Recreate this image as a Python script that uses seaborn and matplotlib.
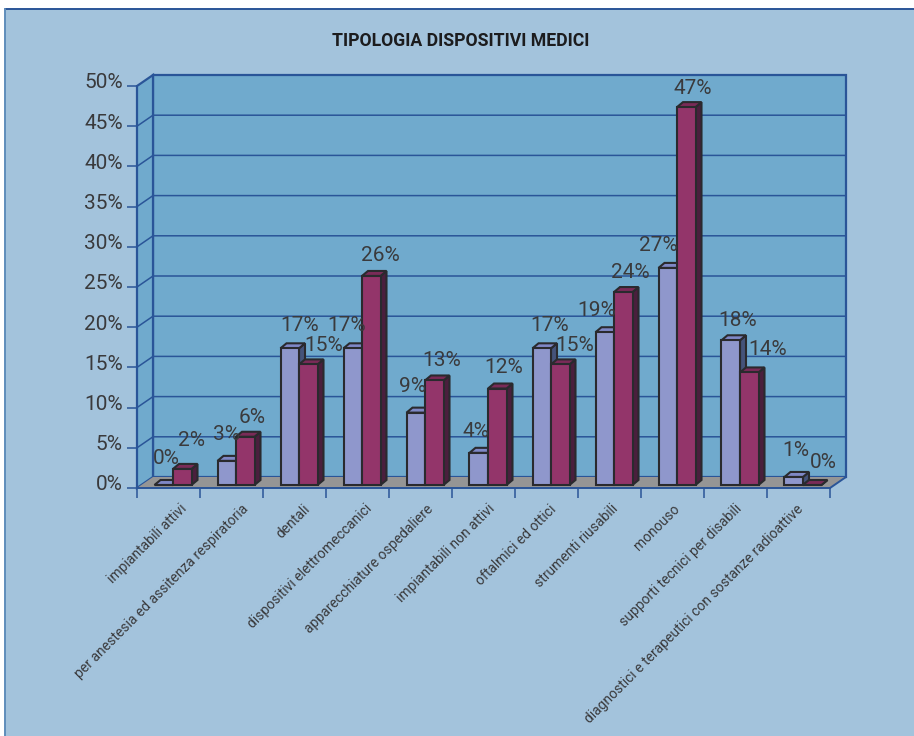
import pandas as pd
import seaborn as sns
import matplotlib.pyplot as plt
from matplotlib.patches import Polygon, Rectangle
from matplotlib.transforms import ScaledTranslation

categories = [
    'impiantabili attivi',
    'per anestesia ed assitenza respiratoria',
    'dentali',
    'dispositivi elettromeccanici',
    'apparecchiature ospedaliere',
    'impiantabili non attivi',
    'oftalmici ed ottici',
    'strumenti riusabili',
    'monouso',
    'supporti tecnici per disabili',
    'diagnostici e terapeutici con sostanze radioattive',
]
series_a = [0, 3, 17, 17, 9, 4, 17, 19, 27, 18, 1]
series_b = [2, 6, 15, 26, 13, 12, 15, 24, 47, 14, 0]
y_ticks = [0, 5, 10, 15, 20, 25, 30, 35, 40, 45, 50]

# hand placed value labels, pixels from the middle of the bar top
label_dx_a = [3, 0, 10, -6, -3, -3, 8, -8, -9, 7, 2]
label_dy_a = [27, 26, 23, 23, 26, 21, 23, 22, 22, 20, 26]
label_dx_b = [9, 7, 15, 9, 7, 6, 14, 7, 7, 18, 11]
label_dy_b = [28, 19, 19, 20, 20, 21, 19, 20, 19, 23, 23]

PAGE = '#a3c3dc'
WALL = '#70aacd'
FLOOR = '#959595'
LINE = '#2a5598'
EDGE = '#2a2a2e'
TEXT = '#3a3a3c'
NUM_FONT = ['Liberation Sans Narrow', 'Roboto']
BLUE = ('#8f97cc', '#7f88c6', '#45537a')
RED = ('#93356a', '#7a2b58', '#4a1f3d')

W, H = 914, 736
LEFT, RIGHT, BASE, TOP = 137, 830, 488, 86
X_PX = (RIGHT - LEFT) / len(categories)
Y_PX = (BASE - TOP) / 50


def px_x(p):
    return p / X_PX


def px_y(p):
    return p / Y_PX


def draw_walls(ax):
    x0, x1 = -0.5, len(categories) - 0.5
    dx, dy = px_x(16), px_y(11)
    kw = dict(clip_on=False, zorder=0.5)
    ax.add_patch(Rectangle((x0 + dx, dy), x1 - x0, 50, fc=WALL, ec=LINE, lw=1.6, **kw))
    ax.add_patch(Polygon([(x0, 0), (x0 + dx, dy), (x0 + dx, 50 + dy), (x0, 50)],
                         fc=WALL, ec=LINE, lw=1.6, **kw))
    ax.add_patch(Polygon([(x0, 0), (x1, 0), (x1 + dx, dy), (x0 + dx, dy)],
                         fc=FLOOR, ec='none', **kw))
    ax.plot([x1, x1 + dx], [0, dy], color=LINE, lw=1.4, clip_on=False, zorder=0.7)
    for t in y_ticks[1:-1]:
        ax.plot([x0, x0 + dx, x1 + dx], [t, t + dy, t + dy], color=LINE, lw=1.1,
                clip_on=False, zorder=0.7)


def draw_bar(ax, bar, colors, z):
    x, y, w, h = bar.get_x(), bar.get_y(), bar.get_width(), bar.get_height()
    dx, dy = px_x(6), px_y(5)
    top = y + h
    bar.set_zorder(z + 0.2)
    bar.set_facecolor(colors[0])
    bar.set_edgecolor(EDGE)
    bar.set_linewidth(1.5)
    bar.set_clip_on(False)
    ax.add_patch(Polygon([(x, top), (x + w, top), (x + w + dx, top + dy), (x + dx, top + dy)],
                         fc=colors[1], ec=EDGE, lw=1.5, zorder=z + 0.1, clip_on=False))
    ax.add_patch(Polygon([(x + w, y), (x + w + dx, y + dy), (x + w + dx, top + dy), (x + w, top)],
                         fc=colors[2], ec=EDGE, lw=1.5, zorder=z, clip_on=False))


def main():
    sns.set_theme(style='white')
    plt.rcParams['font.family'] = ['Roboto', 'DejaVu Sans']

    df = pd.DataFrame({
        'categoria': categories * 2,
        'valore': series_a + series_b,
        'serie': ['a'] * len(categories) + ['b'] * len(categories),
    })

    fig = plt.figure(figsize=(W / 100, H / 100), dpi=100, facecolor='white')
    fig.add_artist(Rectangle((5 / W, 0), 1, 1 - 9 / H, transform=fig.transFigure,
                             fc=PAGE, ec='none', zorder=-3))
    fig.add_artist(plt.Line2D([5 / W, 1], [1 - 9 / H] * 2, color='#2a5598', lw=1.4, zorder=-2))
    fig.add_artist(plt.Line2D([5 / W] * 2, [0, 1 - 9 / H], color='#5f8dbb', lw=1.4, zorder=-2))

    ax = fig.add_axes([LEFT / W, 1 - BASE / H, (RIGHT - LEFT) / W, (BASE - TOP) / H])
    sns.barplot(data=df, x='categoria', y='valore', hue='serie', order=categories,
                hue_order=['a', 'b'], palette={'a': BLUE[0], 'b': RED[0]},
                width=37 / X_PX, gap=0, legend=False, ax=ax)
    bars = sorted(ax.patches, key=lambda p: p.get_x())
    ax.set_xlim(-0.5, len(categories) - 0.5)
    ax.set_ylim(0, 50)
    ax.set_xlabel('')
    ax.set_ylabel('')
    ax.patch.set_visible(False)
    draw_walls(ax)

    # bars stand in the middle of the floor, not on the front edge
    n = len(categories)
    for i, bar in enumerate(bars):
        c, s = divmod(i, 2)
        bar.set_x(bar.get_x() + px_x(4.5))
        bar.set_y(px_y(3))
        draw_bar(ax, bar, RED if s else BLUE, 3 + c * 2 + s * 0.5)
        vals, ldx, ldy = (series_b, label_dx_b, label_dy_b) if s else (series_a, label_dx_a, label_dy_a)
        ax.annotate(f'{vals[c]}%', (bar.get_x() + bar.get_width() / 2, bar.get_y() + bar.get_height()),
                    xytext=(ldx[c] * 0.72, ldy[c] * 0.72), textcoords='offset points',
                    ha='center', va='center', fontsize=15, color=TEXT, family=NUM_FONT,
                    zorder=40, annotation_clip=False)

    for side in ['top', 'right']:
        ax.spines[side].set_visible(False)
    for side in ['left', 'bottom']:
        ax.spines[side].set_color(LINE)
        ax.spines[side].set_linewidth(1.4)
        ax.spines[side].set_zorder(2)

    ax.set_yticks(y_ticks)
    ax.set_yticklabels([f'{t}%' for t in y_ticks], fontsize=15, color=TEXT, family=NUM_FONT)
    ax.tick_params(axis='y', length=7.2, width=1.1, color=LINE, pad=3, left=True)
    up = ScaledTranslation(0, 5 / 100, fig.dpi_scale_trans)
    for lab in ax.get_yticklabels():
        lab.set_transform(lab.get_transform() + up)

    ax.set_xticks(range(n))
    ax.set_xticklabels(categories, rotation=45, ha='right', va='top', rotation_mode='anchor',
                       fontsize=10, color=TEXT)
    ax.set_xticks([i - 0.5 for i in range(n + 1)], minor=True)
    ax.tick_params(axis='x', which='major', length=0, pad=10)
    ax.tick_params(axis='x', which='minor', length=7.2, width=1.1, color=LINE, bottom=True)
    # rotated labels drift left of their category towards the right side
    for i, lab in enumerate(ax.get_xticklabels()):
        shift = ScaledTranslation((11.5 - 1.4 * i) / 100, 0, fig.dpi_scale_trans)
        lab.set_transform(lab.get_transform() + shift)

    fig.text(461 / W, 1 - 41 / H, 'TIPOLOGIA DISPOSITIVI MEDICI', ha='center', va='center',
             fontsize=12.7, fontweight='bold', color='#1c1c1e')

    fig.savefig('out.png', dpi=100)


if __name__ == '__main__':
    main()
